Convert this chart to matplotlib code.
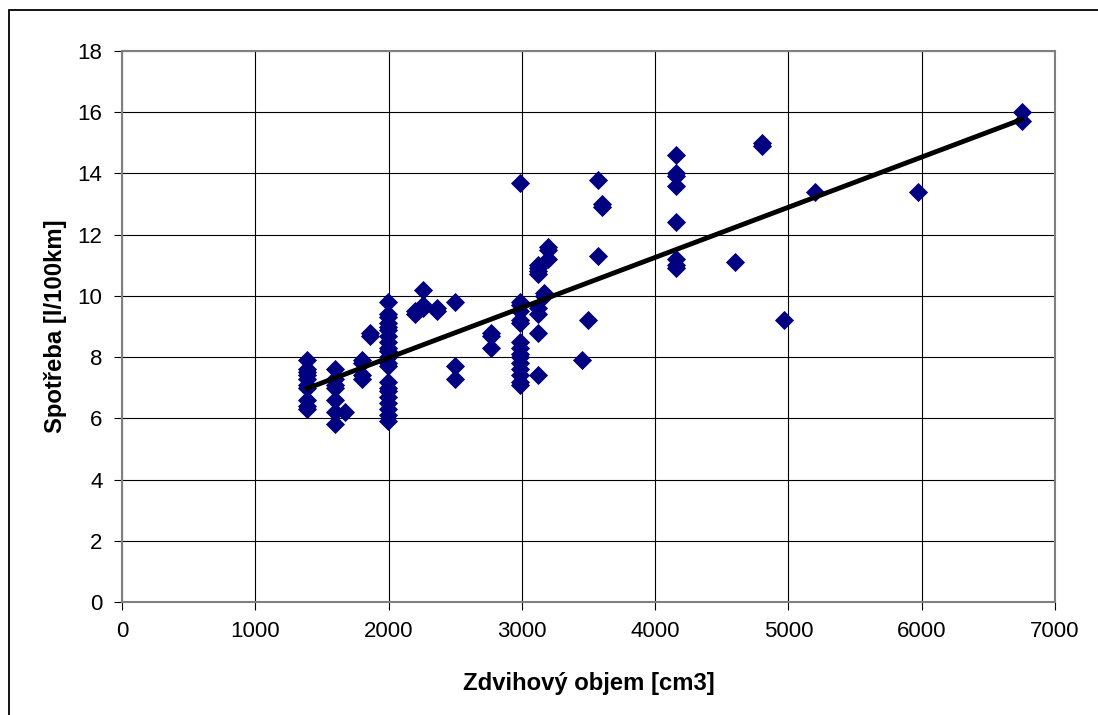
import numpy as np
import matplotlib.pyplot as plt
from matplotlib.patches import Rectangle

# engine displacement [cm3] and fuel consumption [l/100km]
objem = (
    [1390] * 10
    + [1600] * 7 + [1670]
    + [1800] * 4
    + [1860] * 2
    + [1995] * 21
    + [2200] * 2 + [2260] * 3 + [2360] * 2 + [2500] * 3
    + [2770] * 3
    + [2990] * 15
    + [3120] * 8 + [3170] * 2 + [3200] * 3
    + [3450, 3500, 3570, 3570, 3600, 3600]
    + [4160] * 8
    + [4600, 4800, 4800, 4970, 5200, 5970, 6750, 6750]
)
spotreba = (
    [7.9, 7.6, 7.5, 7.4, 7.3, 7.1, 7.0, 6.6, 6.4, 6.3]
    + [7.6, 7.3, 7.1, 7.0, 6.6, 6.2, 5.8] + [6.2]
    + [7.9, 7.8, 7.4, 7.3]
    + [8.8, 8.7]
    + [9.8, 9.4, 9.3, 9.1, 9.0, 8.9, 8.7, 8.5, 8.3, 8.2, 8.0, 7.8, 7.7,
       7.2, 7.0, 6.9, 6.7, 6.5, 6.3, 6.1, 5.9]
    + [9.5, 9.4] + [10.2, 9.7, 9.6] + [9.6, 9.5] + [9.8, 7.7, 7.3]
    + [8.8, 8.7, 8.3]
    + [13.7, 9.8, 9.7, 9.5, 9.2, 9.1, 8.5, 8.3, 8.1, 8.0, 7.8, 7.6, 7.4, 7.2, 7.1]
    + [11.0, 10.9, 10.8, 10.7, 9.6, 9.4, 8.8, 7.4] + [10.1, 10.0] + [11.6, 11.5, 11.2]
    + [7.9, 9.2, 11.3, 13.8, 13.0, 12.9]
    + [14.6, 14.0, 13.9, 13.6, 12.4, 11.2, 11.0, 10.9]
    + [11.1, 15.0, 14.9, 9.2, 13.4, 13.4, 16.0, 15.7]
)

# linear trend as shown in the chart (y = k*x + q)
trend_k = 0.001639
trend_q = 4.70

x = np.array(objem, dtype=float)
y = np.array(spotreba)

plt.rcParams["font.family"] = ["Liberation Sans", "DejaVu Sans"]

fig = plt.figure(figsize=(10.98, 7.15), dpi=100)
ax = fig.add_axes([0.1111, 0.158, 0.8497, 0.7707])

# outer chart frame (right and bottom edges run off the image)
fig.patches.append(Rectangle((9 / 1098, -20 / 715), 1200 / 1098, 725 / 715,
                             transform=fig.transFigure, fill=False,
                             edgecolor="black", linewidth=1.3))

ax.scatter(x, y, marker="D", s=95, color="#000080", zorder=3, linewidths=0)

xs = np.array([x.min(), x.max()])
ax.plot(xs, trend_k * xs + trend_q, color="black", linewidth=3.5, zorder=4)

ax.set_xlim(0, 7000)
ax.set_ylim(0, 18)
ax.set_xticks(np.arange(0, 7001, 1000))
ax.set_yticks(np.arange(0, 19, 2))
ax.grid(True, color="black", linewidth=0.8)
ax.set_axisbelow(True)
for side in ["top", "right", "left", "bottom"]:
    ax.spines[side].set_color("#808080")
    ax.spines[side].set_linewidth(1.5)
ax.tick_params(direction="out", length=6, labelsize=16, pad=8)

ax.set_xlabel("Zdvihový objem [cm3]", fontsize=17.2, fontweight="bold", labelpad=21)
ax.set_ylabel("Spotřeba [l/100km]", fontsize=17.2, fontweight="bold", labelpad=8)

fig.savefig("out.png", dpi=100)
